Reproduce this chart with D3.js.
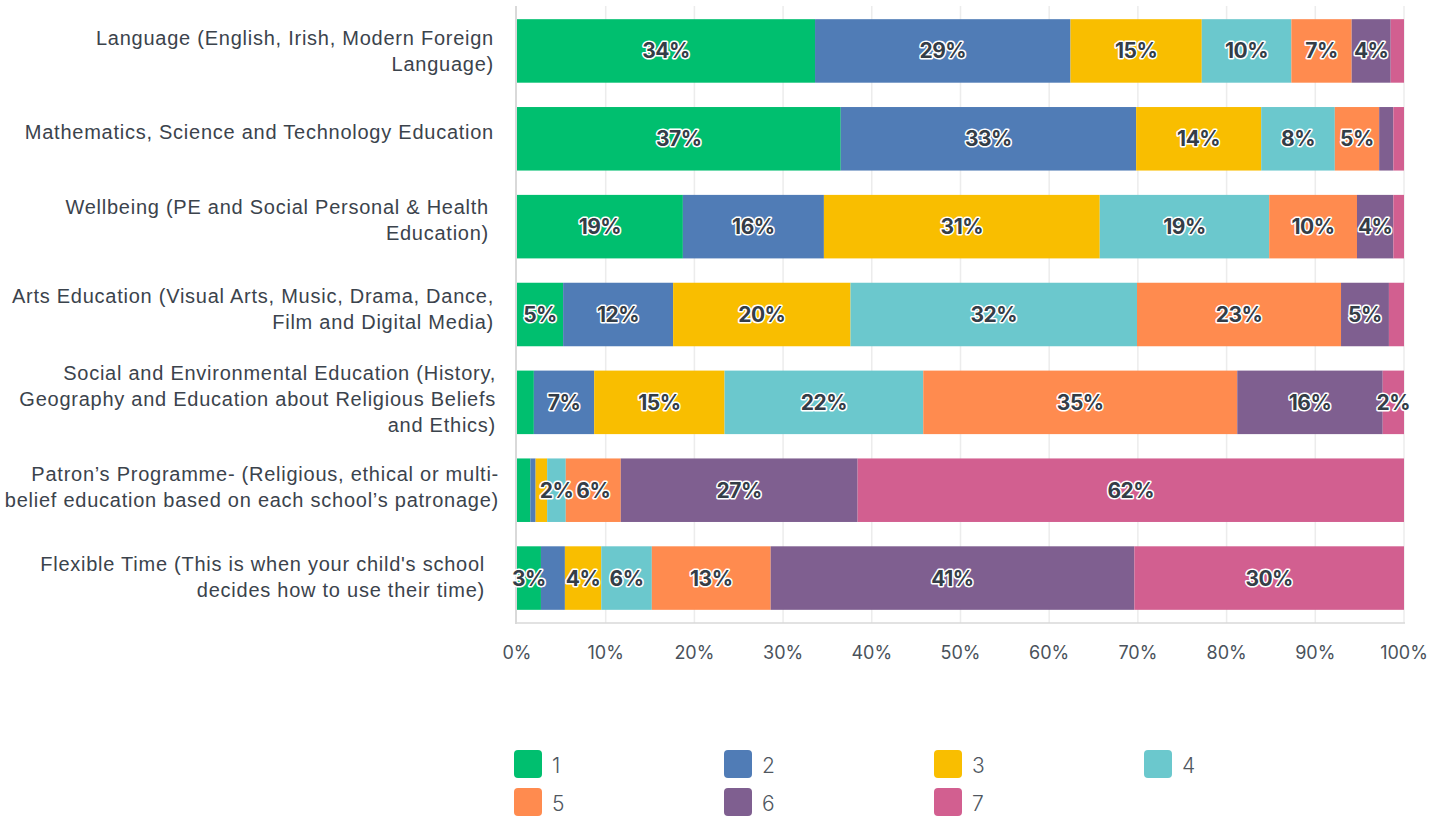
<!DOCTYPE html>
<html>
<head>
<meta charset="utf-8">
<script src="https://cdn.jsdelivr.net/npm/d3@7"></script>
<style>
body { margin: 0; background: #fff; }
.cat { font-family: "Liberation Sans", Arial, sans-serif; font-size: 20px; letter-spacing: 0.75px; fill: #3b434c; }
.tick-label { font-family: Inter, "Noto Sans", sans-serif; font-size: 18px; fill: #4a525b; }
.seg-label { font-family: Inter, "Noto Sans", sans-serif; font-size: 21px; font-weight: 700; letter-spacing: -0.5px;
             fill: #343d47; stroke: #fff; stroke-width: 3px; paint-order: stroke; stroke-linejoin: round; }
.legend-label { font-family: Inter, "Noto Sans", sans-serif; font-size: 21px; font-weight: 300; fill: #50575f; }
</style>
</head>
<body>
<svg width="1438" height="816"></svg>
<script>
// categories (label lines, as wrapped in the original)
var categories = [
  ["Language (English, Irish, Modern Foreign", "Language)"],
  ["Mathematics, Science and Technology Education"],
  ["Wellbeing (PE and Social Personal & Health", "Education)"],
  ["Arts Education (Visual Arts, Music, Drama, Dance,", "Film and Digital Media)"],
  ["Social and Environmental Education (History,", "Geography and Education about Religious Beliefs", "and Ethics)"],
  ["Patron\u2019s Programme- (Religious, ethical or multi-", "belief education based on each school\u2019s patronage)"],
  ["Flexible Time (This is when your child's school", "decides how to use their time)"]
]
// small nudges of the label blocks, as placed in the original
var labelDx = [0, 0, -5, 0, 2, 5, -9]
var labelDy = [0, -6.5, -6.5, -6, -3.5, -3.5, -1.5]

var seriesNames = ["1", "2", "3", "4", "5", "6", "7"]
var colors = ["#00bf6f", "#507cb6", "#f9be00", "#6bc8cd", "#ff8b4f", "#7f5f90", "#d25f90"]

// percentage per series, one value per category
var s1 = [33.6, 36.5, 18.7,  5.2,  1.9,  1.5,  2.7]
var s2 = [28.8, 33.3, 15.9, 12.4,  6.8,  0.6,  2.7]
var s3 = [14.8, 14.1, 31.1, 20.0, 14.7,  1.3,  4.1]
var s4 = [10.1,  8.3, 19.1, 32.3, 22.4,  2.1,  5.7]
var s5 = [ 6.8,  5.0,  9.9, 23.0, 35.4,  6.2, 13.4]
var s6 = [ 4.4,  1.6,  4.1,  5.4, 16.4, 26.7, 41.0]
var s7 = [ 1.5,  1.2,  1.2,  1.7,  2.4, 61.6, 30.4]
var seriesValues = [s1, s2, s3, s4, s5, s6, s7]

var xTicks = [0, 10, 20, 30, 40, 50, 60, 70, 80, 90, 100]

// build table for d3.stack
var table = categories.map(function(c, i) {
  var row = { idx: i }
  seriesNames.forEach(function(s, j) { row[s] = seriesValues[j][i] })
  return row
})

var svg = d3.select("svg")
var plotLeft = 517, plotRight = 1404, plotTop = 6, plotBottom = 623

var x = d3.scaleLinear().domain([0, 100]).range([plotLeft, plotRight])
var y = d3.scaleBand().domain(d3.range(categories.length)).range([plotTop, plotBottom])
  .paddingInner(0.277).paddingOuter(0.15)

// gridlines
svg.append("g")
  .selectAll("line").data(xTicks.slice(1))
  .enter().append("line")
  .attr("x1", function(d) { return x(d) }).attr("x2", function(d) { return x(d) })
  .attr("y1", plotTop).attr("y2", plotBottom)
  .style("stroke", "#ececec").style("stroke-width", 1.5)

// axes lines
svg.append("line").attr("x1", plotLeft - 1).attr("x2", plotLeft - 1).attr("y1", plotTop).attr("y2", plotBottom + 1)
  .style("stroke", "#d9d9d9").style("stroke-width", 2)
svg.append("line").attr("x1", plotLeft - 2).attr("x2", plotRight + 1).attr("y1", plotBottom).attr("y2", plotBottom)
  .style("stroke", "#d9d9d9").style("stroke-width", 1.5)

// x tick labels
svg.append("g")
  .selectAll("text").data(xTicks)
  .enter().append("text")
  .attr("class", "tick-label")
  .attr("x", function(d) { return x(d) })
  .attr("y", 652)
  .attr("text-anchor", "middle")
  .attr("dominant-baseline", "central")
  .text(function(d) { return d + "%" })

// bars
var stack = d3.stack().keys(seriesNames)(table)

svg.append("g")
  .selectAll("g").data(stack)
  .enter().append("g")
  .style("fill", function(d, i) { return colors[i] })
  .selectAll("rect").data(function(d) { return d })
  .enter().append("rect")
  .attr("x", function(d) { return x(d[0]) })
  .attr("width", function(d) { return x(d[1]) - x(d[0]) })
  .attr("y", function(d) { return y(d.data.idx) })
  .attr("height", y.bandwidth())

// segment labels, skip tiny ones and ones that would collide
var labelG = svg.append("g")
table.forEach(function(row, i) {
  var lastRight = -Infinity
  stack.forEach(function(layer) {
    var seg = layer[i]
    var v = seg[1] - seg[0]
    if (v < 2) return
    var cx = (x(seg[0]) + x(seg[1])) / 2
    var t = labelG.append("text")
      .attr("class", "seg-label")
      .attr("x", cx)
      .attr("y", y(i) + y.bandwidth() / 2)
      .attr("text-anchor", "middle")
      .attr("dominant-baseline", "central")
      .text(Math.round(v) + "%")
    var w = t.node().getComputedTextLength()
    if (cx - w / 2 < lastRight + 2) { t.remove(); return }
    lastRight = cx + w / 2
  })
})

// category labels
var catG = svg.append("g")
categories.forEach(function(lines, i) {
  var cy = y(i) + y.bandwidth() / 2 + labelDy[i]
  var lh = 26
  lines.forEach(function(line, k) {
    catG.append("text")
      .attr("class", "cat")
      .attr("x", 494 + labelDx[i])
      .attr("y", cy + (k - (lines.length - 1) / 2) * lh)
      .attr("text-anchor", "end")
      .attr("dominant-baseline", "central")
      .text(line)
  })
})

// legend
var legend = svg.append("g").selectAll("g").data(seriesNames)
  .enter().append("g")
  .attr("transform", function(d, i) { return "translate(" + (514 + (i % 4) * 210) + "," + (750 + Math.floor(i / 4) * 38) + ")" })
legend.append("rect")
  .attr("width", 28).attr("height", 28).attr("rx", 4)
  .style("fill", function(d, i) { return colors[i] })
legend.append("text")
  .attr("class", "legend-label")
  .attr("x", 38).attr("y", 15)
  .attr("dominant-baseline", "central")
  .text(function(d) { return d })
</script>
</body>
</html>
